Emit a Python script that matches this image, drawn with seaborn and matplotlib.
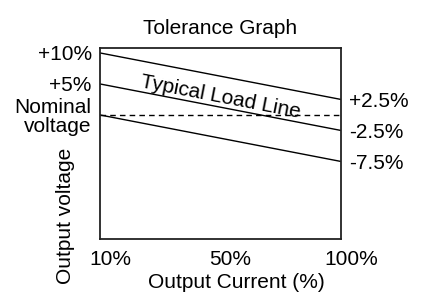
import numpy as np
import pandas as pd
import matplotlib
matplotlib.use("Agg")
import matplotlib.pyplot as plt
import matplotlib.transforms as mtransforms
import seaborn as sns

# data (tolerance bands, % of nominal)
current_labels = ["10%", "50%", "100%"]
line_ends = ["10%", "100%"]
upper_limit = [10, 2.5]
typical_load = [5, -2.5]
lower_limit = [0, -7.5]
nominal = [0, 0]
left_ticks = [10, 5, 0]
left_labels = ["+10%", "+5%", "Nominal\nvoltage"]

sns.set_style("ticks")
plt.rcParams["font.family"] = ["Liberation Sans", "DejaVu Sans"]
plt.rcParams["text.color"] = "black"
plt.rcParams["xtick.color"] = "black"
plt.rcParams["ytick.color"] = "black"
plt.rcParams["axes.labelcolor"] = "black"
FS = 15

x_pos = [current_labels.index(c) for c in line_ends]
df = pd.DataFrame({
    "x": x_pos * 4,
    "y": upper_limit + typical_load + lower_limit + nominal,
    "series": ["upper"] * 2 + ["typical"] * 2 + ["lower"] * 2 + ["nominal"] * 2,
})

fig = plt.figure(figsize=(4.26, 2.98), dpi=100)
ax = fig.add_axes([0.2347, 0.198, 0.5658, 0.641])

sns.lineplot(data=df, x="x", y="y", hue="series", style="series",
             palette={"upper": "black", "typical": "black", "lower": "black", "nominal": "black"},
             dashes={"upper": "", "typical": "", "lower": "", "nominal": (4, 3)},
             linewidth=1.0, legend=False, ax=ax)

ax.set_xlim(0, 2)
ax.set_ylim(-20, 10.8)
for s in ax.spines.values():
    s.set_visible(True)
    s.set_linewidth(1.3)
    s.set_color("#222222")

ax.set_xticks(range(len(current_labels)))
ax.set_xticklabels(current_labels, fontsize=FS)
ax.set_yticks(left_ticks)
ax.set_yticklabels(left_labels, fontsize=FS, linespacing=1.0)
ax.tick_params(length=0)
ax.tick_params(axis="x", pad=8)
ax.tick_params(axis="y", pad=6)
shift = mtransforms.ScaledTranslation(10 / 100, 0, fig.dpi_scale_trans)
for lbl in ax.get_xticklabels():
    lbl.set_transform(lbl.get_transform() + shift)

ax2 = ax.twinx()
ax2.set_ylim(ax.get_ylim())
right_vals = [upper_limit[-1], typical_load[-1], lower_limit[-1]]
ax2.set_yticks(right_vals)
ax2.set_yticklabels([f"{v:+.1f}%" if v > 0 else f"{v:.1f}%" for v in right_vals], fontsize=FS)
ax2.tick_params(length=0, pad=6)
for s in ax2.spines.values():
    s.set_visible(False)

ax.set_xlabel("Output Current (%)", fontsize=FS)
ax.xaxis.set_label_coords(0.564, -0.18)
ax.set_ylabel("")
fig.text(0.153, 0.275, "Output voltage", rotation=90, fontsize=FS, ha="center", va="center")
ax.set_title("Tolerance Graph", fontsize=FS, pad=10)

angle = np.degrees(np.arctan2(typical_load[1] - typical_load[0], x_pos[1] - x_pos[0]))
ax.text(1.0, np.mean(typical_load) + 1.6, "Typical Load Line", fontsize=FS,
        rotation=angle, transform_rotates_text=True, rotation_mode="anchor",
        ha="center", va="center")

fig.savefig("out.png", dpi=100)
